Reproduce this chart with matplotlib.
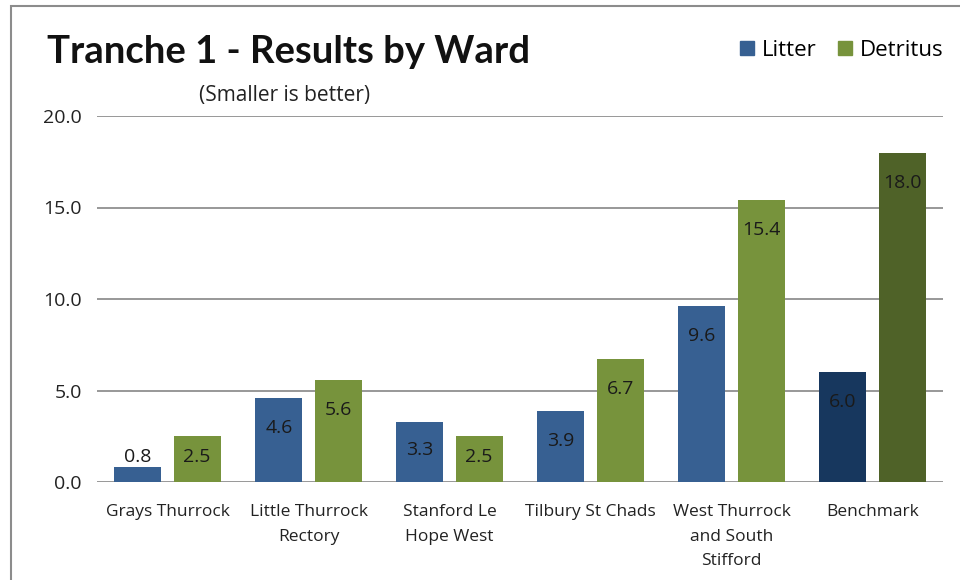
import matplotlib.pyplot as plt
import matplotlib.patches as mpatches
import numpy as np

plt.rcParams['font.family'] = ['Open Sans', 'DejaVu Sans']

wards = ["Grays Thurrock", "Little Thurrock\nRectory", "Stanford Le\nHope West",
         "Tilbury St Chads", "West Thurrock\nand South\nStifford", "Benchmark"]
litter = [0.8, 4.6, 3.3, 3.9, 9.6, 6.0]
detritus = [2.5, 5.6, 2.5, 6.7, 15.4, 18.0]

litter_col = ["#376092"] * 5 + ["#17375E"]
detritus_col = ["#77933C"] * 5 + ["#4F6228"]

fig = plt.figure(figsize=(9.6, 5.8), dpi=100)
ax = fig.add_axes([97/960, 1-482/580, 846/960, 366/580])

x = np.arange(len(wards))
w = 0.333
off = 0.21
b1 = ax.bar(x - off, litter, w, color=litter_col, label="Litter", zorder=3)
b2 = ax.bar(x + off, detritus, w, color=detritus_col, label="Detritus", zorder=3)

# data labels: inside near the top, above the bar if too short
px_per_unit = 366/20
for bars, vals in ((b1, litter), (b2, detritus)):
    for rect, v in zip(bars, vals):
        h = v * px_per_unit
        if h < 25:
            dy = 10
        else:
            dy = -min(30, h/2 - 2)
        ax.annotate("%.1f" % v, (rect.get_x() + rect.get_width()/2, v),
                    xytext=(0, dy*0.72), textcoords="offset points",
                    ha="center", va="center", fontsize=14, color="#1a1a1a", zorder=4)

ax.set_xlim(-0.5, 5.5)
ax.set_ylim(0, 20)
ax.set_yticks([0, 5, 10, 15, 20])
ax.set_yticklabels(["%.1f" % t for t in [0, 5, 10, 15, 20]], fontsize=14, color="#222222")
ax.set_xticks(x)
ax.set_xticklabels(wards, fontsize=12.5, color="#222222", linespacing=1.7)
ax.tick_params(length=0, axis="y", pad=11)
ax.tick_params(length=0, axis="x", pad=16)
ax.yaxis.grid(True, color="#868686", linewidth=1.2, zorder=0)
for s in ax.spines.values():
    s.set_visible(False)

fig.text(47/960, 1-52/580, "Tranche 1 - Results by Ward", fontsize=27.5, fontweight="bold",
         family=["Lato", "DejaVu Sans"], va="center", ha="left", color="#111111")
fig.text(285/960, 1-96/580, "(Smaller is better)", fontsize=15, va="center", ha="center",
         color="#222222")

fig.legend(handles=[mpatches.Patch(color=litter_col[0], label="Litter"),
                    mpatches.Patch(color=detritus_col[0], label="Detritus")],
           loc="center right", bbox_to_anchor=(952/960, 1-50/580), ncol=2, frameon=False,
           fontsize=16, handlelength=0.6, handleheight=0.6, handletextpad=0.35,
           columnspacing=1.0, borderaxespad=0)

# outer chart border (only top/left visible in the crop)
fig.patches.append(mpatches.Rectangle((11/960, -0.1), 2, 1-6/580+0.1,
                                      transform=fig.transFigure, fill=False,
                                      edgecolor="#8c8c8c", linewidth=1.5))

fig.savefig("out.png", dpi=100)
